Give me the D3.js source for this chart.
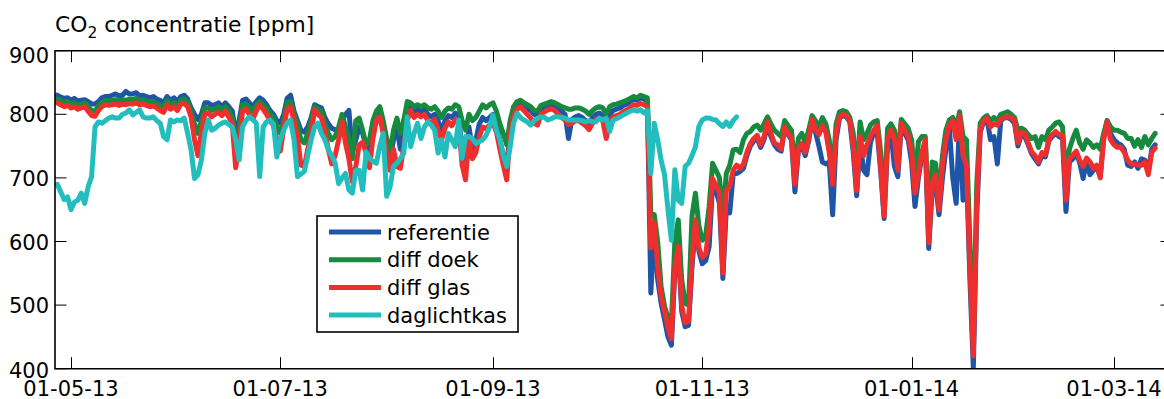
<!DOCTYPE html>
<html><head><meta charset="utf-8">
<script src="https://cdn.jsdelivr.net/npm/d3@7"></script>
<style>
body{margin:0;background:#fff;}
text{font-family:"DejaVu Sans",Verdana,sans-serif;fill:#000;}
</style></head><body>
<svg id="c" width="1164" height="399"></svg>
<script>
// ---- data (daily values, first day 2013-04-27) ----
const startDate = "2013-04-27";
const xTickDates = ["2013-05-01","2013-07-01","2013-09-01","2013-11-01","2014-01-01","2014-03-01"];
const yTicks = [400,500,600,700,800,900];
const seriesNames = ["referentie","diff doek","diff glas","daglichtkas"];

const referentie = [
830,827,825,826,822,825,821,822,823,820, 816,816,820,826,828,828,830,832,829,830,
836,832,832,834,829,830,828,826,828,824, 822,818,828,822,826,820,828,830,824,810,
800,792,800,818,818,814,815,818,812,818, 812,805,772,790,822,824,818,812,820,826,
822,815,806,800,790,786,800,825,830,805, 790,775,772,780,795,815,812,810,795,785,
778,776,774,790,800,806,740,760,780,770, 750,735,775,800,810,785,755,730,760,780,
745,790,805,812,804,808,802,808,800,796, 800,790,772,790,798,795,802,798,740,715,
780,745,760,785,795,790,795,800,785,760, 735,715,780,806,815,818,812,808,806,800,
798,808,812,814,815,812,808,805,800,762, 792,796,798,795,790,785,795,800,802,798,
785,800,806,808,810,814,816,820,824,822, 826,824,820,519,620,540,503,477,450,437,
555,585,490,466,468,560,625,585,565,570, 592,690,680,660,542,650,645,705,707,710,
715,735,750,758,762,748,760,782,765,752, 745,742,778,768,760,678,742,750,735,758,
790,772,750,725,722,725,642,760,794,798, 796,788,740,672,760,712,705,755,772,770,
710,636,752,770,718,702,783,770,760,725, 655,700,735,755,589,680,690,642,700,745,
780,700,660,795,665,715,540,401,640,772, 788,792,760,765,722,790,794,795,792,786,
750,768,765,752,738,730,722,735,733,758, 765,770,765,762,647,725,730,738,724,699,
726,705,712,716,702,765,790,770,760,755, 752,745,720,718,725,715,730,728,710,745,
752];

const diffDoek = [
824,822,819,820,817,818,815,816,818,812, 806,805,813,819,822,821,822,823,821,823,
822,824,823,825,822,823,821,819,820,817, 814,811,822,815,819,813,822,824,820,804,
785,770,790,810,810,806,808,812,806,812, 806,795,760,775,815,816,810,805,815,820,
815,810,800,795,780,770,790,818,820,800, 785,760,755,770,790,812,808,805,785,770,
760,765,780,800,780,760,730,790,794,775, 752,760,790,805,812,790,762,740,775,794,
770,790,820,818,812,815,812,815,810,808, 812,805,795,805,810,808,815,812,790,775,
800,790,795,805,815,810,815,818,805,785, 770,752,790,812,820,822,818,815,812,806,
805,814,816,818,820,818,815,812,810,808, 808,810,810,808,805,800,806,810,812,810,
800,812,815,816,818,820,822,825,828,826, 830,828,826,645,642,600,529,498,480,471,
600,634,540,503,500,640,676,625,602,610, 655,723,712,700,640,707,720,744,745,740,
760,770,773,780,783,775,785,796,785,775, 770,765,790,782,775,712,762,770,755,775,
798,790,780,795,785,760,705,785,804,806, 804,795,770,700,788,760,770,783,788,790,
740,660,778,785,775,735,792,785,778,760, 700,757,765,765,620,725,723,670,735,775,
791,795,780,804,765,760,600,440,690,786, 794,798,790,795,790,800,802,804,800,795,
775,778,775,768,762,765,748,765,760,775, 780,786,788,780,700,745,762,775,755,745,
760,755,748,752,745,770,790,780,775,775, 772,770,762,762,750,760,748,765,752,762,
770];

const diffGlas = [
818,815,812,814,810,812,808,810,812,805, 798,797,806,812,815,814,815,816,814,816,
815,817,816,818,815,816,814,812,813,810, 806,803,815,808,812,806,816,817,812,796,
760,735,772,800,802,796,800,803,798,805, 796,785,716,752,805,808,800,792,805,815,
808,800,790,783,760,742,778,808,812,790, 765,720,718,745,770,807,800,795,772,745,
722,735,760,788,755,730,694,718,752,756, 740,716,762,790,796,770,740,712,745,718,
715,750,790,806,795,800,796,800,790,786, 792,775,760,778,788,782,792,786,720,697,
765,730,740,765,780,778,783,786,772,745, 720,697,770,798,808,812,806,800,794,786,
783,800,804,807,809,806,800,795,791,784, 786,790,790,786,782,776,786,792,794,790,
762,790,796,798,800,804,807,810,815,814, 817,815,812,590,629,560,513,490,465,447,
560,592,500,472,475,570,634,590,575,580, 623,699,688,676,550,680,686,712,720,715,
722,740,754,762,767,752,765,788,770,755, 752,745,780,770,762,690,745,754,740,760,
792,776,768,782,772,740,690,770,796,800, 798,790,750,680,765,735,752,765,775,783,
715,640,760,775,760,712,786,775,766,740, 676,705,740,760,598,690,705,650,720,760,
783,790,760,798,735,720,560,420,660,775, 790,794,780,785,783,792,795,796,795,790,
755,772,770,755,741,735,725,740,736,760, 768,773,768,767,665,730,736,742,728,718,
731,725,715,720,700,760,788,760,752,748, 748,740,728,722,722,720,720,725,705,740,
747];

const daglichtkas = [
690,678,666,670,650,662,665,676,660,686, 702,780,788,786,790,794,796,794,794,800,
802,807,799,803,807,796,794,794,796,790, 786,765,760,791,788,791,790,794,770,744,
699,705,728,770,791,775,778,783,786,788, 784,780,760,728,780,790,796,792,786,702,
780,788,791,785,733,760,775,786,791,760, 702,706,710,735,760,780,786,770,760,744,
735,723,691,700,707,681,676,712,712,681, 741,731,726,723,750,770,671,686,718,723,
730,739,796,749,770,786,762,780,788,783, 775,739,760,733,770,760,749,791,731,765,
765,762,754,757,760,767,780,799,775,760, 735,718,749,786,802,795,791,788,783,790,
794,796,795,791,793,796,796,795,794,791, 791,791,791,790,788,790,788,788,794,791,
794,773,791,793,796,799,802,805,807,805, 807,802,806,707,786,760,728,705,650,602,
713,665,660,718,723,735,749,781,791,794, 794,792,791,785,781,788,781,790,796];

const seriesValues = [referentie, diffDoek, diffGlas, daglichtkas];
const seriesColors = ["#1f55a6","#178a3e","#ee2f2d","#22bdbd"];

// ---- layout ----
const L = 55, R = 1172, T = 50.7, B = 368.7;
const svg = d3.select("#c");
const parse = d3.utcParse("%Y-%m-%d");
const d0 = parse(startDate);

const x = d3.scaleUtc()
  .domain([parse("2013-05-01"), parse("2014-03-01")])
  .range([71, 1114]);
const y = d3.scaleLinear().domain([400, 900]).range([B, T]);

svg.append("clipPath").attr("id","plotclip")
  .append("rect").attr("x", L).attr("y", T).attr("width", R - L).attr("height", B - T);

const line = d3.line()
  .x((v, i) => x(d3.utcDay.offset(d0, i)))
  .y(v => y(v));

const g = svg.append("g").attr("clip-path","url(#plotclip)");
seriesValues.forEach((vals, k) => {
  g.append("path")
    .datum(vals)
    .attr("d", line)
    .attr("fill","none")
    .attr("stroke", seriesColors[k])
    .attr("stroke-width", 5)
    .attr("stroke-linejoin","round")
    .attr("stroke-linecap","round");
});

// box
svg.append("path")
  .attr("d", `M${L},${T}H${R}V${B}H${L}Z`)
  .attr("fill","none").attr("stroke","#000").attr("stroke-width",1.6);

const tickLen = 11.5;
const fmt = d3.utcFormat("%d-%m-%y");
const xt = xTickDates.map(parse);
const ax = svg.append("g");
xt.forEach(d => {
  const px = Math.round(x(d)) + 0.5;
  ax.append("line").attr("x1",px).attr("x2",px).attr("y1",B).attr("y2",B - tickLen)
    .attr("stroke","#000").attr("stroke-width",1);
  ax.append("line").attr("x1",px).attr("x2",px).attr("y1",T).attr("y2",T + tickLen)
    .attr("stroke","#000").attr("stroke-width",1);
  ax.append("text").attr("x", x(d)).attr("y", 395.5)
    .attr("text-anchor","middle").attr("font-size",21).text(fmt(d));
});
yTicks.forEach(v => {
  const py = y(v);
  ax.append("line").attr("x1",L).attr("x2",L + tickLen).attr("y1",py).attr("y2",py)
    .attr("stroke","#000").attr("stroke-width",1);
  ax.append("line").attr("x1",R).attr("x2",R - tickLen).attr("y1",py).attr("y2",py)
    .attr("stroke","#000").attr("stroke-width",1);
  const off = v === 900 ? 12 : (v === 400 ? 9 : 8);
  ax.append("text").attr("x", 49).attr("y", py + off)
    .attr("text-anchor","end").attr("font-size",21).text(String(v));
});

// title
const title = svg.append("text").attr("x", 55).attr("y", 32).attr("font-size", 21.8);
title.append("tspan").text("CO");
title.append("tspan").attr("font-size", 15.5).attr("dy", 6).text("2");
title.append("tspan").attr("dy", -6).text(" concentratie [ppm]");

// legend
const lg = svg.append("g");
lg.append("rect").attr("x",317).attr("y",216).attr("width",201).attr("height",116)
  .attr("fill","#fff").attr("stroke","#000").attr("stroke-width",1.6);
seriesNames.forEach((name, k) => {
  const ly = 232 + k * 27.7;
  lg.append("line").attr("x1",329).attr("x2",381).attr("y1",ly).attr("y2",ly)
    .attr("stroke", seriesColors[k]).attr("stroke-width",5);
  lg.append("text").attr("x",387).attr("y",ly + 7.5).attr("font-size",21).text(name);
});
</script>
</body></html>
